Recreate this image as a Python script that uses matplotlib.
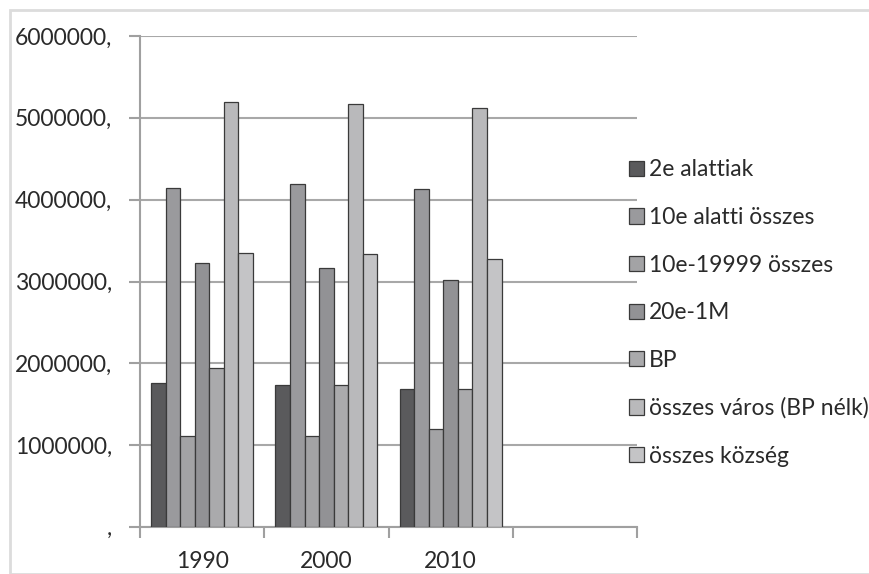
import numpy as np
import matplotlib
matplotlib.use("Agg")
import matplotlib.pyplot as plt
from matplotlib.patches import Rectangle

plt.rcParams['font.family'] = ['Lato', 'DejaVu Sans']

evek = ["1990", "2000", "2010", ""]
sorozatok = ["2e alattiak", "10e alatti összes", "10e-19999 összes", "20e-1M",
             "BP", "összes város (BP nélk)", "összes község"]
# ertekek[sorozat][ev]
e2_alatt = [1765000, 1737000, 1688000]
e10_alatt = [4146000, 4195000, 4134000]
e10_19999 = [1115000, 1115000, 1195000]
e20_1M = [3232000, 3171000, 3024000]
bp = [1944000, 1737000, 1688000]
varos = [5190000, 5163000, 5115000]
kozseg = [3346000, 3330000, 3280000]
ertekek = [e2_alatt, e10_alatt, e10_19999, e20_1M, bp, varos, kozseg]
szinek = ["#5a5a5c", "#9a9a9d", "#a3a3a5", "#929295", "#aaaaac", "#b9b9bb", "#c4c4c6"]

fig = plt.figure(figsize=(8.69, 5.74), dpi=100)
fig.patches.append(Rectangle((10/869, 0), 1, 1 - 10/574, transform=fig.transFigure,
                             fill=False, edgecolor="#dcdcdc", linewidth=2))
ax = fig.add_axes([140/869, 1 - 527/574, 497/869, 491/574])

w = 0.117
x = np.arange(3)
for i, (s, v, c) in enumerate(zip(sorozatok, ertekek, szinek)):
    ax.bar(x + (i - 3) * w, v, width=w, color=c, edgecolor="#3a3a3a", linewidth=0.9,
           label=s, zorder=3)

fs = 16.5
ax.set_xlim(-0.5, 3.5)
ax.set_ylim(0, 6000000)
ax.set_yticks(np.arange(0, 6000001, 1000000))
ax.set_yticklabels([f"{int(t)}," if t > 0 else "," for t in np.arange(0, 6000001, 1000000)],
                   fontsize=fs, color="#2a2a2a")
ax.set_xticks(np.arange(4))
ax.set_xticklabels(evek, fontsize=fs, color="#2a2a2a")
ax.set_xticks(np.arange(-0.5, 4, 1), minor=True)
ax.tick_params(axis="x", which="major", length=0, pad=17)
ax.tick_params(axis="x", which="minor", length=8, color="#a0a0a0", width=1.5)
ax.tick_params(axis="y", length=8, color="#a0a0a0", width=1.5, pad=12)
ax.grid(axis="y", color="#a8a8a8", linewidth=1.5, zorder=0)
for k in ["top", "right"]:
    ax.spines[k].set_visible(False)
for k in ["left", "bottom"]:
    ax.spines[k].set_color("#a0a0a0")
    ax.spines[k].set_linewidth(1.5)

fig.legend(loc="center left", bbox_to_anchor=(608/869, 1 - 313/574), frameon=False,
           fontsize=fs, handlelength=0.65, handleheight=0.65, handletextpad=0.25,
           labelspacing=1.16, labelcolor="#2a2a2a")

fig.savefig("out.png", dpi=100)
